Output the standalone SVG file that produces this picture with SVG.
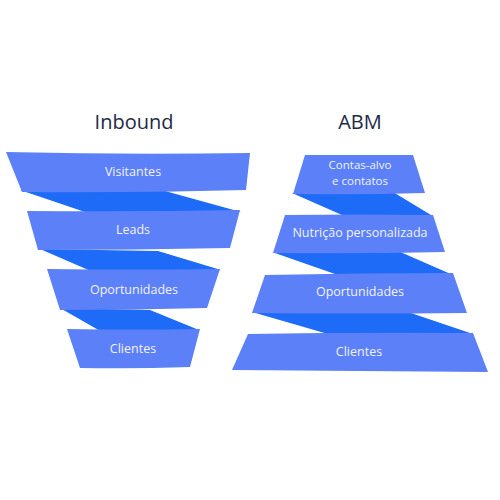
<svg xmlns="http://www.w3.org/2000/svg" width="500" height="500" viewBox="0 0 500 500">
<style>
.band{fill:#5b80f7}
.rib{fill:#1d6bf6}
.lbl{font-family:"Open Sans","Noto Sans",sans-serif;font-size:12.5px;fill:#f2f2ff;text-anchor:middle}
.sm{font-size:11.5px}
.ttl{font-family:"Open Sans","Noto Sans",sans-serif;font-size:20px;fill:#1e2a44;text-anchor:middle}
</style>
<rect width="500" height="500" fill="#ffffff"/>
<text class="ttl" x="134" y="129">Inbound</text>
<text class="ttl" x="360" y="129">ABM</text>
<g id="connectors">
<path class="rib" d="M20,190 L165,191 L241,212 L88,213 Z"/>
<path class="rib" d="M40,249 L158,251 L221,270 L93,272 Z"/>
<path class="rib" d="M60,308 L150,310 L199,330 L102,332 Z"/>
<path class="rib" d="M292,193 L393,192 L431,215 L342,215 Z"/>
<path class="rib" d="M272,252 L398,251 L453,275 L335,274 Z"/>
<path class="rib" d="M252,312 L405,311 L473,334 L328,334 Z"/>
</g>
<g id="inbound-visitantes">
<path class="band" d="M6,152 Q128,155 250,153 L246,190 Q134,193 22,192 Z"/>
<text class="lbl" x="133" y="176">Visitantes</text>
</g>
<g id="inbound-leads">
<path class="band" d="M27,211 Q134,212 240,210 L230,248 Q134,250 38,250 Z"/>
<text class="lbl" x="133" y="234">Leads</text>
</g>
<g id="inbound-oportunidades">
<path class="band" d="M47,269 Q134,270 220,269 L207,308 Q134,310 60,310 Z"/>
<text class="lbl" x="134" y="294">Oportunidades</text>
</g>
<g id="inbound-clientes">
<path class="band" d="M67,329 Q134,330 200,329 L190,367 Q135,369 80,368 Z"/>
<text class="lbl" x="133" y="353">Clientes</text>
</g>
<g id="abm-contas">
<path class="band" d="M305,155 L413,155 L425,193 Q359,195 293,194 Z"/>
<text class="lbl sm" x="360" y="168.5">Contas-alvo</text>
<text class="lbl sm" x="360" y="184.5">e contatos</text>
</g>
<g id="abm-nutricao">
<path class="band" d="M285,215 Q359,214 433,215 L445,252 Q359,254 273,253 Z"/>
<text class="lbl" x="360" y="237">Nutrição personalizada</text>
</g>
<g id="abm-oportunidades">
<path class="band" d="M265,275 Q359,273 453,273 L467,313 Q359,314 252,313 Z"/>
<text class="lbl" x="360" y="296">Oportunidades</text>
</g>
<g id="abm-clientes">
<path class="band" d="M248,334 Q360,332 473,333 L488,372 Q360,371 232,370 Z"/>
<text class="lbl" x="359" y="356">Clientes</text>
</g>
</svg>
